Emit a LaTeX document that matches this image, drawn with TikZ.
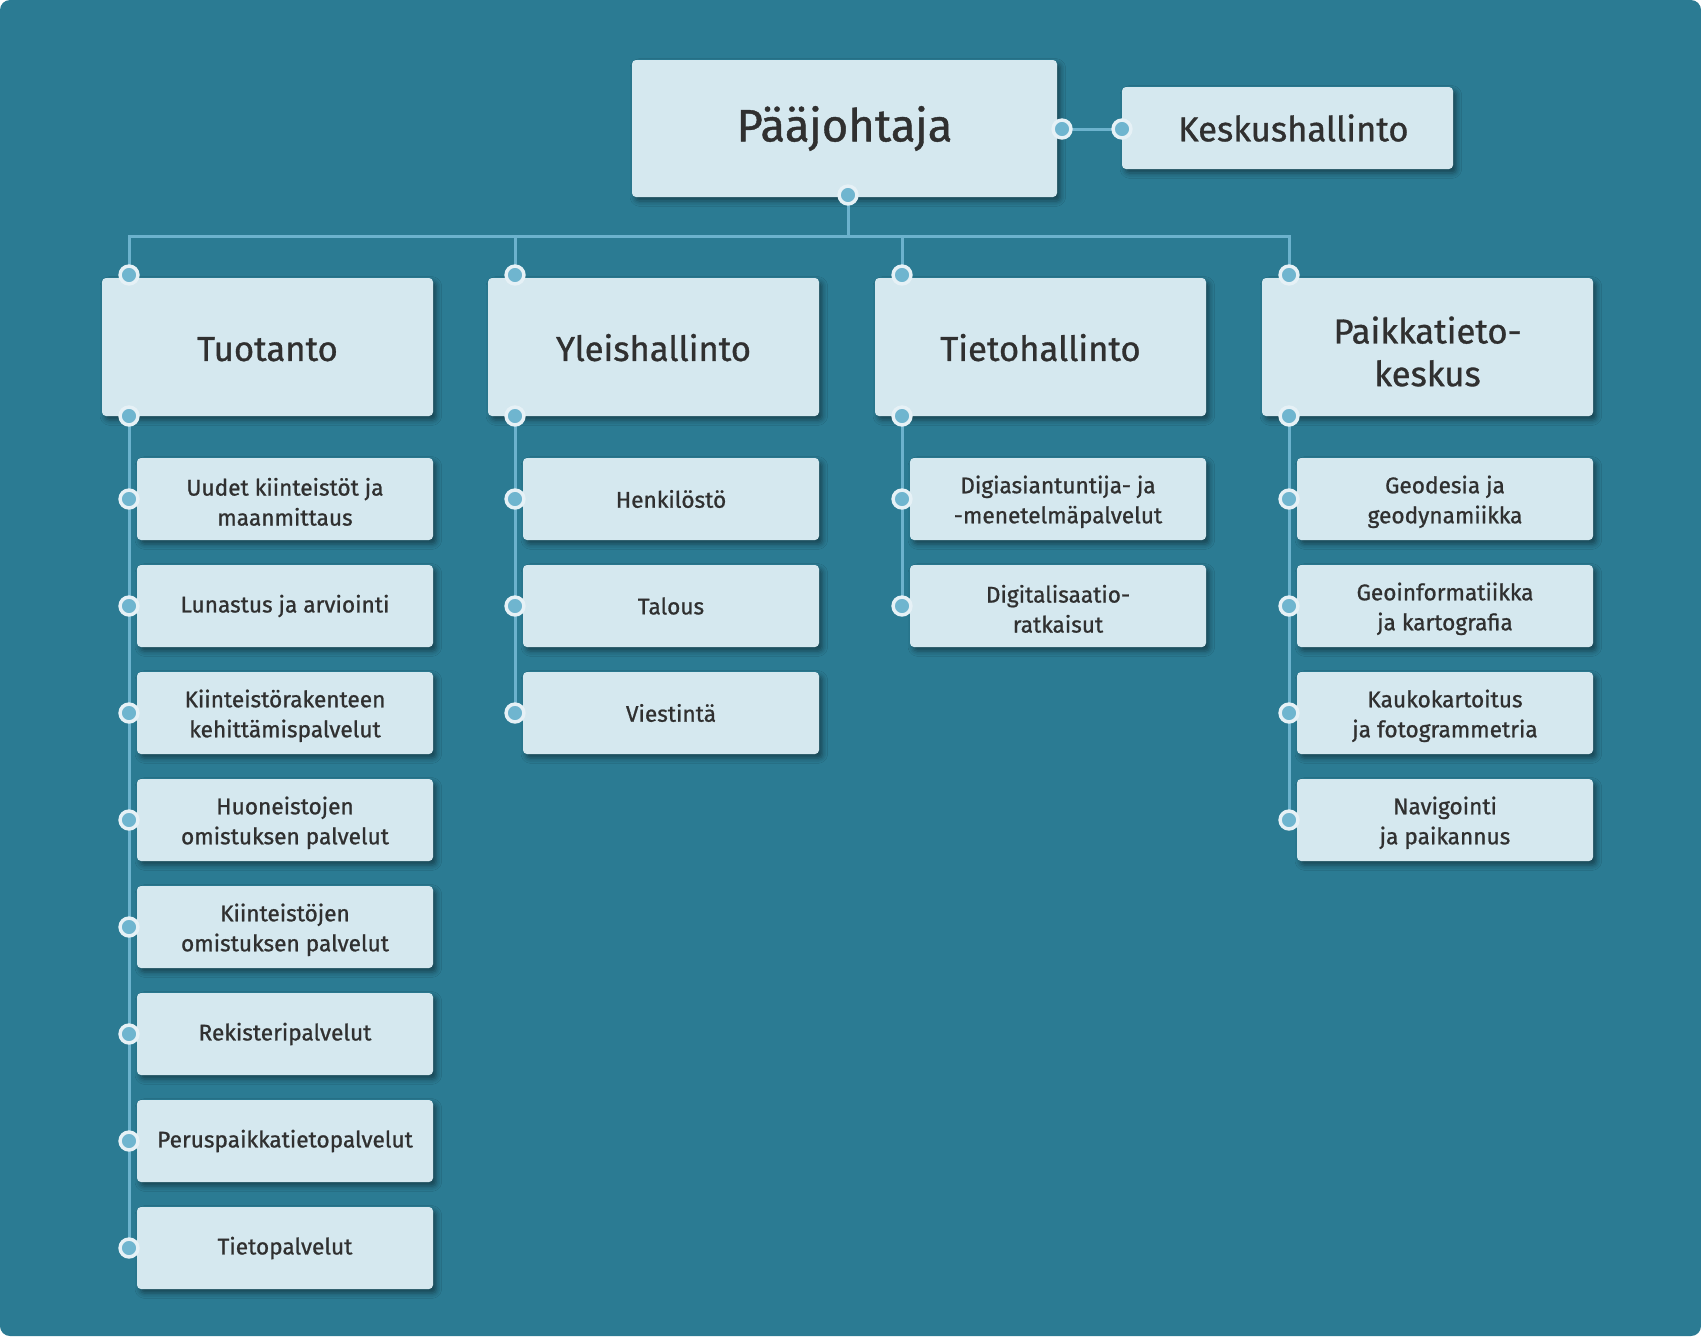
\documentclass[tikz,border=0pt]{standalone}
\usepackage{fontspec}
\setmainfont{Fira Sans}[FakeBold=0.9]
\usetikzlibrary{shadows.blur}
\definecolor{bgc}{HTML}{2B7B93}
\definecolor{boxc}{HTML}{D5E8EF}
\definecolor{dotc}{HTML}{6FB5CF}
\definecolor{ringc}{HTML}{E6F1F6}
\definecolor{linec}{HTML}{6CB2CD}
\definecolor{txtc}{HTML}{303030}
\newcommand\hstrut{\rule[-7pt]{0pt}{34.9pt}}
\newcommand\hfirst{\rule{0pt}{27pt}}
\newcommand\sfirst{\rule{0pt}{17.5pt}}
\tikzset{
  box/.style={fill=boxc, rounded corners=3pt, text=txtc, align=center, inner sep=0pt, outer sep=0pt, anchor=north west,
    blur shadow={shadow xshift=2.5pt, shadow yshift=-3pt, shadow blur radius=4pt, shadow opacity=45}},
  top/.style={box, minimum width=318.75pt, minimum height=102.75pt, font=\fontsize{34}{40}\selectfont},
  side/.style={box, minimum width=248.25pt, minimum height=61.5pt, font=\fontsize{26}{32}\selectfont},
  head/.style={box, minimum width=248.25pt, minimum height=103.5pt, font=\fontsize{26}{32}\selectfont},
  sub/.style={box, minimum width=222pt, minimum height=61.5pt, font=\fontsize{17}{22.5}\selectfont},
  dotn/.style={circle, fill=dotc, draw=ringc, line width=2.6pt, minimum size=13.4pt, inner sep=0pt, outer sep=0pt},
  conn/.style={draw=linec, line width=2.25pt}
}
\begin{document}
\begin{tikzpicture}[x=0.75pt,y=-0.75pt]
\useasboundingbox (0,0) rectangle (1701,1336);
\fill[bgc, rounded corners=7.5pt] (0,0) rectangle (1701,1336);

% top level
\node[top] (pj) at (632,60) {Pääjohtaja};
\node[side] (kh) at (1122,87) {\hspace*{8.8pt}Keskushallinto};

% headers
\node[head] (tuo) at (102,278) {\hstrut Tuotanto};
\node[head] (yle) at (488,278) {\hstrut Yleishallinto};
\node[head] (tie) at (875,278) {\hstrut Tietohallinto};
\node[head] (pk) at (1262,278) {\hfirst Paikkatieto-\\keskus};

% Tuotanto subs
\node[sub] (tuo1) at (137,458) {\sfirst Uudet kiinteistöt ja\\maanmittaus};
\node[sub] (tuo2) at (137,565) {Lunastus ja arviointi};
\node[sub] (tuo3) at (137,672) {\sfirst Kiinteistörakenteen\\kehittämispalvelut};
\node[sub] (tuo4) at (137,779) {\sfirst Huoneistojen\\omistuksen palvelut};
\node[sub] (tuo5) at (137,886) {\sfirst Kiinteistöjen\\omistuksen palvelut};
\node[sub] (tuo6) at (137,993) {Rekisteripalvelut};
\node[sub] (tuo7) at (137,1100) {Peruspaikkatietopalvelut};
\node[sub] (tuo8) at (137,1207) {Tietopalvelut};

% Yleishallinto subs
\node[sub] (yle1) at (523,458) {Henkilöstö};
\node[sub] (yle2) at (523,565) {Talous};
\node[sub] (yle3) at (523,672) {Viestintä};

% Tietohallinto subs
\node[sub] (tie1) at (910,458) {\sfirst Digiasiantuntija- ja\\-menetelmäpalvelut};
\node[sub] (tie2) at (910,565) {\sfirst Digitalisaatio-\\ratkaisut};

% Paikkatietokeskus subs
\node[sub] (pk1) at (1297,458) {\sfirst Geodesia ja\\geodynamiikka};
\node[sub] (pk2) at (1297,565) {\sfirst Geoinformatiikka\\ja kartografia};
\node[sub] (pk3) at (1297,672) {\sfirst Kaukokartoitus\\ja fotogrammetria};
\node[sub] (pk4) at (1297,779) {\sfirst Navigointi\\ja paikannus};

% connector points
\coordinate (pj-b) at (848,195);
\coordinate (pj-r) at (1062,129);
\coordinate (kh-l) at (1122,129);
\coordinate (bus) at (848,236);
\coordinate (tuo-t) at (129,275);
\coordinate (yle-t) at (515,275);
\coordinate (tie-t) at (902,275);
\coordinate (pk-t) at (1289,275);
\coordinate (tuo-b) at (129,416);
\coordinate (yle-b) at (515,416);
\coordinate (tie-b) at (902,416);
\coordinate (pk-b) at (1289,416);
\foreach \i in {1,...,8}{\coordinate (tuo\i-d) at (129,{458+107*(\i-1)+41});}
\foreach \i in {1,...,3}{\coordinate (yle\i-d) at (515,{458+107*(\i-1)+41});}
\foreach \i in {1,...,2}{\coordinate (tie\i-d) at (902,{458+107*(\i-1)+41});}
\foreach \i in {1,...,4}{\coordinate (pk\i-d) at (1289,{458+107*(\i-1)+41});}

% connectors
\draw[conn] (pj-r) -- (kh-l);
\draw[conn] (pj-b) -- (bus);
\draw[conn] (tuo-t) |- (bus) -| (pk-t);
\draw[conn] (yle-t) -- (yle-t |- bus);
\draw[conn] (tie-t) -- (tie-t |- bus);
\draw[conn] (tuo-b) -- (tuo8-d);
\draw[conn] (yle-b) -- (yle3-d);
\draw[conn] (tie-b) -- (tie2-d);
\draw[conn] (pk-b) -- (pk4-d);

% dots
\foreach \p in {pj-b,pj-r,kh-l,tuo-t,yle-t,tie-t,pk-t,tuo-b,yle-b,tie-b,pk-b,
  tuo1-d,tuo2-d,tuo3-d,tuo4-d,tuo5-d,tuo6-d,tuo7-d,tuo8-d,yle1-d,yle2-d,yle3-d,
  tie1-d,tie2-d,pk1-d,pk2-d,pk3-d,pk4-d}{\node[dotn] (\p-n) at (\p) {};}
\end{tikzpicture}
\end{document}
